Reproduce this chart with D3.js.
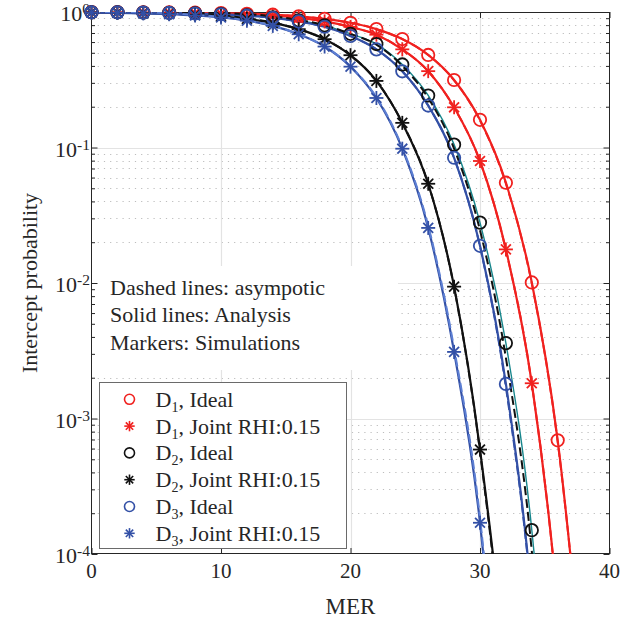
<!DOCTYPE html>
<meta charset="utf-8">
<style>
  body { margin: 0; padding: 0; background: white; }
  svg { background: white; }
  text { font-family: "Liberation Serif", "Times New Roman", serif; fill: #262626; }
</style>
<script src="https://d3js.org/d3.v7.min.js"></script>
<body>
<script>

// MER values (dB)
const mer = [0,2,4,6,8,10,12,14,16,18,20,22,24,26,28,30,32,34,36,38];

// analysis (solid lines)
const d1Ideal = [0.998,0.997,0.995,0.993,0.989,0.982,0.971,0.955,0.929,0.89,0.833,0.748,0.631,0.482,0.315,0.16,0.055,0.0101,6.9e-4,1e-5];
const d1Joint = [0.9975,0.996,0.994,0.99,0.984,0.975,0.961,0.938,0.904,0.852,0.776,0.68,0.53,0.366,0.198,0.0795,0.0177,0.00182,4.2e-5,1e-7];
const d2Ideal = [0.996,0.994,0.991,0.986,0.978,0.965,0.945,0.914,0.866,0.797,0.69,0.58,0.41,0.242,0.105,0.0279,0.0036,1.5e-4,6e-7,1e-10];
const d2Joint = [0.993,0.988,0.982,0.971,0.955,0.929,0.89,0.831,0.747,0.63,0.48,0.31,0.152,0.054,0.0094,5.9e-4,1e-5,1e-8,1e-12,1e-16];
const d3Ideal = [0.996,0.994,0.99,0.984,0.975,0.961,0.939,0.905,0.853,0.778,0.665,0.53,0.365,0.204,0.084,0.0188,0.0018,4.7e-5,1e-7,1e-11];
const d3Joint = [0.991,0.985,0.977,0.963,0.942,0.911,0.863,0.79,0.685,0.556,0.395,0.232,0.098,0.0255,0.0031,1.7e-4,1e-6,1e-9,1e-13,1e-18];

// asymptotic (dashed lines)
const d1Asym = [1,1,1,0.998,0.993,0.984,0.972,0.955,0.929,0.89,0.833,0.748,0.631,0.482,0.313,0.158,0.054,0.0099,6.7e-4,1e-5];
const d1JointAsym = [1,1,1,0.996,0.99,0.978,0.962,0.938,0.904,0.852,0.776,0.68,0.53,0.365,0.197,0.079,0.0175,0.0018,4.1e-5,1e-7];
const d2Asym = [1,1,1,1,0.995,0.985,0.965,0.93,0.875,0.8,0.69,0.575,0.4,0.232,0.098,0.0245,0.0028,1.05e-4,3e-7,1e-11];
const d2JointAsym = [1,1,1,0.99,0.975,0.945,0.9,0.835,0.748,0.63,0.48,0.31,0.152,0.054,0.0093,5.7e-4,9e-6,1e-8,1e-12,1e-16];
const d3Asym = [1,1,1,0.995,0.985,0.968,0.942,0.905,0.853,0.778,0.665,0.53,0.365,0.204,0.084,0.0186,0.0017,4.5e-5,1e-7,1e-11];
const d3JointAsym = [1,1,0.995,0.98,0.955,0.92,0.868,0.792,0.687,0.557,0.397,0.235,0.1,0.0265,0.0033,1.85e-4,1.2e-6,1e-9,1e-13,1e-18];

const xTicks = [0,10,20,30,40];
const yTicks = [1e-4,1e-3,1e-2,1e-1,1];
const yExps = ["-4","-3","-2","-1","0"];

const legendLabels = [
  ["1", ", Ideal"], ["1", ", Joint RHI:0.15"],
  ["2", ", Ideal"], ["2", ", Joint RHI:0.15"],
  ["3", ", Ideal"], ["3", ", Joint RHI:0.15"]
];
const notes = ["Dashed lines: asympotic", "Solid lines: Analysis", "Markers: Simulations"];

const red = "#f0211f", blk = "#111", blue = "#3350a6", teal = "#17868c", lblue = "#5d7fd3";

const analysis = [
  {vals: d1Ideal, color: red, lw: 2.2, marker: "o"},
  {vals: d1Joint, color: red, lw: 2.2, marker: "*"},
  {vals: d2Ideal, color: teal, mcolor: blk, lw: 1.4, marker: "o"},
  {vals: d2Joint, color: blk, lw: 2.2, marker: "*"},
  {vals: d3Ideal, color: blue, lw: 2.2, marker: "o"},
  {vals: d3Joint, color: blue, lw: 2.2, marker: "*"}
];
const asym = [
  {vals: d1Asym, color: red},
  {vals: d1JointAsym, color: red},
  {vals: d3Asym, color: blue},
  {vals: d2Asym, color: blk},
  {vals: d2JointAsym, color: blk},
  {vals: d3JointAsym, color: lblue}
];

const W = 641, H = 621;
const L = 91.5, R = 609.5, T = 12, B = 554;

var svg = d3.select("body").append("svg").attr("width", W).attr("height", H);

var x = d3.scaleLinear().domain([0,40]).range([L,R]);
var y = d3.scaleLog().domain([1e-4,1]).range([B,T]);

svg.append("clipPath").attr("id","clip")
  .append("rect").attr("x",L).attr("y",T).attr("width",R-L).attr("height",B-T);

// grid
var minor = [];
for (var e=-4; e<0; e++) for (var k=2; k<10; k++) minor.push(k*Math.pow(10,e));

var grid = svg.append("g");
grid.selectAll("line.mn").data(minor).enter().append("line")
  .attr("x1",L).attr("x2",R)
  .attr("y1",d=>Math.round(y(d))+0.5).attr("y2",d=>Math.round(y(d))+0.5)
  .attr("stroke","#bdbdbd").attr("stroke-width",1).attr("stroke-dasharray","1.2,5");
grid.selectAll("line.my").data(yTicks.slice(1,4)).enter().append("line")
  .attr("x1",L).attr("x2",R)
  .attr("y1",d=>Math.round(y(d))+0.5).attr("y2",d=>Math.round(y(d))+0.5)
  .attr("stroke","#e3e3e3").attr("stroke-width",1.2);
grid.selectAll("line.mx").data(xTicks.slice(1,4)).enter().append("line")
  .attr("y1",T).attr("y2",B)
  .attr("x1",d=>Math.round(x(d))+0.5).attr("x2",d=>Math.round(x(d))+0.5)
  .attr("stroke","#e3e3e3").attr("stroke-width",1.2);

// white text box behind the notes
svg.append("rect").attr("x",L+1).attr("y",266).attr("width",398-L-1).attr("height",104).attr("fill","white");

// axes ticks (inward, on all four sides)
function tickOnly(g){ g.select(".domain").remove(); g.selectAll("line").attr("stroke","#262626"); g.selectAll("text").remove(); }
svg.append("g").attr("transform",`translate(${L},0)`).call(d3.axisLeft(y).tickValues(yTicks).tickSize(-6)).call(tickOnly);
svg.append("g").attr("transform",`translate(${L},0)`).call(d3.axisLeft(y).tickValues(minor).tickSize(-3.5)).call(tickOnly);
svg.append("g").attr("transform",`translate(${R},0)`).call(d3.axisRight(y).tickValues(yTicks).tickSize(-6)).call(tickOnly);
svg.append("g").attr("transform",`translate(${R},0)`).call(d3.axisRight(y).tickValues(minor).tickSize(-3.5)).call(tickOnly);
svg.append("g").attr("transform",`translate(0,${B})`).call(d3.axisBottom(x).tickValues(xTicks).tickSize(-6)).call(tickOnly);
svg.append("g").attr("transform",`translate(0,${T})`).call(d3.axisTop(x).tickValues(xTicks).tickSize(-6)).call(tickOnly);

// tick labels
svg.selectAll("text.xl").data(xTicks).enter().append("text")
  .attr("x",d=>x(d)).attr("y",578).attr("text-anchor","middle")
  .attr("font-size",21).text(d=>d);

var yl = svg.selectAll("text.yl").data(yTicks).enter().append("text")
  .attr("x",90).attr("y",d=>y(d)+9).attr("text-anchor","end").attr("font-size",22);
yl.append("tspan").text("10");
yl.append("tspan").attr("font-size",15.5).attr("dy",-7).text((d,i)=>yExps[i]);

// axis labels
svg.append("text").attr("x",(L+R)/2).attr("y",614).attr("text-anchor","middle")
  .attr("font-size",23).text("MER");
svg.append("text").attr("transform",`translate(37,${(T+B)/2}) rotate(-90)`)
  .attr("text-anchor","middle").attr("font-size",22).text("Intercept probability");

// box
svg.append("rect").attr("x",L).attr("y",T+0.5).attr("width",R-L).attr("height",B-T-1)
  .attr("fill","none").attr("stroke","#262626").attr("stroke-width",1);

// curves
var line = d3.line().x((d,i)=>x(mer[i])).y(d=>y(d)).curve(d3.curveMonotoneX);
var plot = svg.append("g").attr("clip-path","url(#clip)");

analysis.forEach(s=>{
  plot.append("path").attr("d",line(s.vals)).attr("fill","none")
    .attr("stroke",s.color).attr("stroke-width",s.lw);
});

function drawMarker(g, kind, cx, cy, color, r, sw){
  if (kind==="o") {
    g.append("circle").attr("cx",cx).attr("cy",cy).attr("r",r)
      .attr("fill","none").attr("stroke",color).attr("stroke-width",sw);
  } else {
    [0,45,90,135].forEach(a=>{
      var dx = r*Math.cos(a*Math.PI/180), dy = r*Math.sin(a*Math.PI/180);
      g.append("line").attr("x1",cx-dx).attr("y1",cy-dy).attr("x2",cx+dx).attr("y2",cy+dy)
        .attr("stroke",color).attr("stroke-width",sw);
    });
  }
}

var marks = svg.append("g");
analysis.forEach(s=>{
  s.vals.forEach((v,i)=>{
    if (v < 1e-4) return;
    drawMarker(marks, s.marker, x(mer[i]), y(v), s.mcolor || s.color, s.marker==="o" ? 6.2 : 7, 1.8);
  });
});

asym.forEach(s=>{
  plot.append("path").attr("d",line(s.vals)).attr("fill","none")
    .attr("stroke",s.color).attr("stroke-width",2).attr("stroke-dasharray","9,4");
});

// notes
svg.selectAll("text.note").data(notes).enter().append("text")
  .attr("x",110).attr("y",(d,i)=>295+i*27.4).attr("font-size",22).text(d=>d);

// legend
var lg = svg.append("g");
lg.append("rect").attr("x",99.5).attr("y",382.5).attr("width",247).attr("height",166)
  .attr("fill","white").attr("stroke","#6a6a6a").attr("stroke-width",1);
legendLabels.forEach((lab,i)=>{
  var cy = 399.3 + i*26.8;
  var s = analysis[i];
  drawMarker(lg, s.marker, 129.5, cy, s.mcolor || s.color, s.marker==="o" ? 5 : 5.2, 1.6);
  var t = lg.append("text").attr("x",155.5).attr("y",cy+7.5).attr("font-size",22);
  t.append("tspan").text("D");
  t.append("tspan").attr("font-size",14).attr("dy",5).text(lab[0]);
  t.append("tspan").attr("dy",-5).text(lab[1]);
});

</script>
</body>
